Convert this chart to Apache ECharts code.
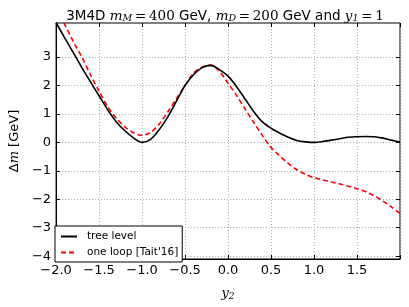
<!DOCTYPE html>
<html><head><meta charset="utf-8">
<script src="https://cdn.jsdelivr.net/npm/echarts@6/dist/echarts.min.js"></script>
<style>html,body{margin:0;padding:0;background:#fff}#c{width:409px;height:307px}</style>
</head><body><div id="c"></div>
<script>
const xVals = [-2.0,-1.9,-1.8,-1.7,-1.6,-1.5,-1.4,-1.3,-1.2,-1.1,-1.0,-0.9,-0.8,-0.7,-0.6,-0.5,-0.4,-0.3,-0.2,-0.1,0.0,0.1,0.2,0.3,0.4,0.5,0.6,0.7,0.8,0.9,1.0,1.1,1.2,1.3,1.4,1.5,1.6,1.7,1.8,1.9,2.0];
const treeLevel = [4.21,3.68,3.16,2.63,2.13,1.64,1.15,0.73,0.41,0.16,0.0,0.11,0.45,0.9,1.45,2.0,2.39,2.63,2.71,2.56,2.33,1.96,1.52,1.08,0.72,0.5,0.33,0.18,0.07,0.02,0.0,0.03,0.08,0.13,0.18,0.2,0.21,0.2,0.15,0.08,0.01];
const oneLoop = [4.7,4.15,3.55,3.0,2.38,1.8,1.26,0.85,0.55,0.34,0.25,0.35,0.65,1.08,1.54,2.0,2.44,2.65,2.72,2.5,2.08,1.65,1.17,0.7,0.24,-0.18,-0.47,-0.74,-0.96,-1.12,-1.24,-1.32,-1.39,-1.46,-1.54,-1.63,-1.73,-1.88,-2.06,-2.27,-2.5];
const xTicks = [-2.0,-1.5,-1.0,-0.5,0.0,0.5,1.0,1.5];
const yTicks = [-4,-3,-2,-1,0,1,2,3];
const seriesNames = ['tree level', "one loop [Tait'16]"];

const fmt = (v, d) => (v < 0 ? '\u2212' : '') + Math.abs(v).toFixed(d);
const sans = 'DejaVu Sans';
const serif = 'DejaVu Serif';

const chart = echarts.init(document.getElementById('c'), null, {renderer: 'canvas'});
const gridLine = {show: true, lineStyle: {color: '#aaaaaa', type: [1, 2], width: 1}};
chart.setOption({
  animation: false,
  backgroundColor: '#fff',
  title: {
    text: '3M4D {i|m}{s|M}{m|\u2009=\u2009400} GeV, {i|m}{s|D}{m|\u2009=\u2009200} GeV and {i|y}{s|1}{m|\u2009=\u20091}',
    left: 220, top: 3, textAlign: 'center',
    textStyle: {
      fontFamily: sans, fontSize: 13.5, fontWeight: 'normal', color: '#000',
      rich: {
        i: {fontFamily: serif, fontStyle: 'italic', fontSize: 13.5, color: '#000'},
        s: {fontFamily: serif, fontStyle: 'italic', fontSize: 9.5, color: '#000', verticalAlign: 'bottom', padding: [6, 0, 0, 0]},
        m: {fontFamily: serif, fontSize: 13.5, color: '#000'}
      }
    }
  },
  grid: {left: 50, right: 9, top: 23, bottom: 48, show: true, borderColor: '#000', borderWidth: 1, backgroundColor: 'transparent'},
  legend: {
    orient: 'vertical', left: 55, top: 226,
    data: [
      {name: seriesNames[0], icon: 'path://M0,0h16v2h-16z'},
      {name: seriesNames[1], icon: 'path://M0,0h5v2h-5zM8,0h5v2h-5zM16,0h0v2h0z', itemStyle: {color: '#ff0000'}}
    ],
    itemWidth: 16, itemHeight: 2, itemGap: 5,
    padding: [5, 4, 4, 6],
    borderColor: '#000', borderWidth: 1, backgroundColor: '#fff',
    textStyle: {fontFamily: sans, fontSize: 10.5, color: '#000', padding: [0, 0, 0, 5]}
  },
  xAxis: [{
    type: 'value', min: -2, max: 2, interval: 0.5,
    name: '{i|y}{s|2}', nameLocation: 'middle', nameGap: 28,
    nameTextStyle: {rich: {
      i: {fontFamily: serif, fontStyle: 'italic', fontSize: 13, color: '#000'},
      s: {fontFamily: serif, fontStyle: 'italic', fontSize: 9, color: '#000', verticalAlign: 'bottom', padding: [5, 0, 0, 0]}
    }},
    axisLine: {show: true, onZero: false, lineStyle: {color: '#000', width: 1}},
    axisTick: {show: true, inside: true, length: 4, lineStyle: {color: '#000'}},
    axisLabel: {customValues: xTicks, formatter: v => fmt(v, 1), fontFamily: sans, fontSize: 13, color: '#000', margin: 5},
    splitLine: gridLine
  }, {
    type: 'value', min: -2, max: 2, interval: 0.5, position: 'top',
    axisLine: {show: false, onZero: false}, axisTick: {show: true, inside: true, length: 4, lineStyle: {color: '#000'}},
    axisLabel: {show: false}, splitLine: {show: false}
  }],
  yAxis: [{
    type: 'value', min: -4.1, max: 4.2,
    name: '\u0394{i|m} [GeV]', nameLocation: 'middle', nameRotate: 90, nameGap: 28,
    nameTextStyle: {fontFamily: sans, fontSize: 13, color: '#000', rich: {
      i: {fontFamily: serif, fontStyle: 'italic', fontSize: 13, color: '#000'}
    }},
    axisLine: {show: true, onZero: false, lineStyle: {color: '#000', width: 1}},
    axisTick: {show: true, inside: true, length: 4, customValues: yTicks, lineStyle: {color: '#000'}},
    axisLabel: {customValues: yTicks, formatter: v => fmt(v, 0), fontFamily: sans, fontSize: 13, color: '#000', margin: 5},
    splitLine: gridLine
  }, {
    type: 'value', min: -4.1, max: 4.2, position: 'right',
    axisLine: {show: false, onZero: false},
    axisTick: {show: true, inside: true, length: 4, customValues: yTicks, lineStyle: {color: '#000'}},
    axisLabel: {show: false}, splitLine: {show: false}
  }],
  series: [{
    name: seriesNames[0], type: 'line', symbol: 'none', smooth: 0.3, clip: true,
    data: xVals.map((x, i) => [x, treeLevel[i]]),
    lineStyle: {color: '#000', width: 1.6}, itemStyle: {color: '#000'}, z: 3
  }, {
    name: seriesNames[1], type: 'line', symbol: 'none', smooth: 0.3, clip: true,
    data: xVals.map((x, i) => [x, oneLoop[i]]),
    lineStyle: {color: '#ff0000', width: 1.6, type: [5, 3]}, itemStyle: {color: '#ff0000'}, z: 2
  }]
});
</script></body></html>
